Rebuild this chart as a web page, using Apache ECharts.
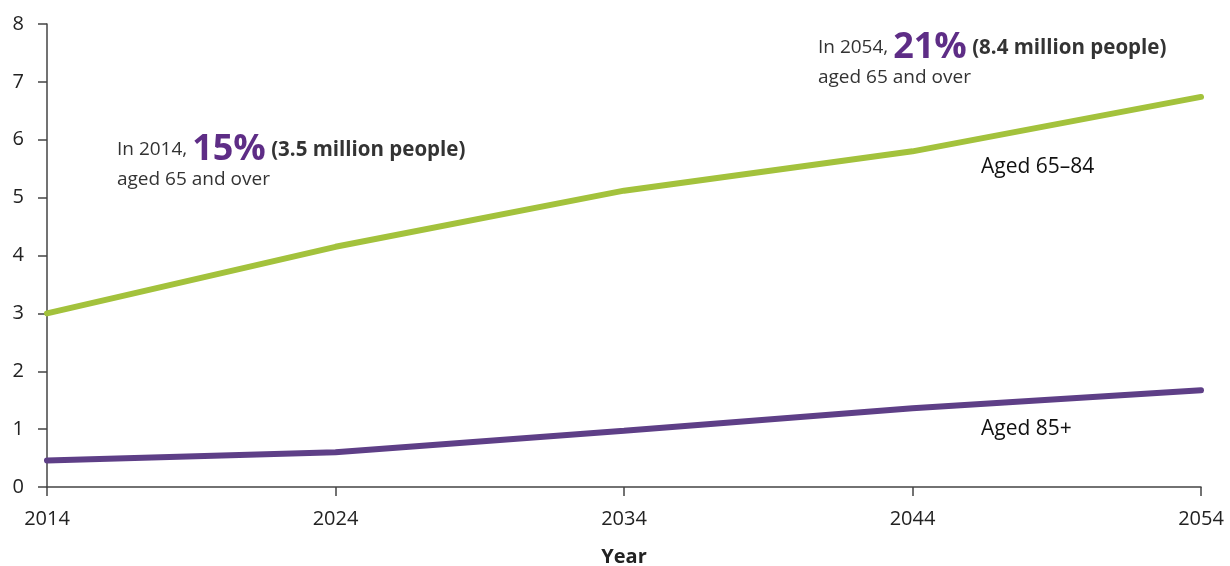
<!DOCTYPE html>
<html><head><meta charset="utf-8">
<script src="https://cdn.jsdelivr.net/npm/echarts@6/dist/echarts.min.js"></script>
<style>html,body{margin:0;padding:0;background:#fff}#c{width:1230px;height:566px}</style>
</head><body><div id="c"></div>
<script>
const years = ['2014','2024','2034','2044','2054'];
const aged65to84 = [3.0, 4.15, 5.12, 5.8, 6.74];
const aged85plus = [0.46, 0.6, 0.97, 1.36, 1.67];
const yTicks = [0,1,2,3,4,5,6,7,8];
const FONT = '"Open Sans", "Noto Sans", sans-serif';
const richStyle = {
  a: {fontFamily: FONT, fontSize: 19, fill: '#333', lineHeight: 30},
  b: {fontFamily: FONT, fontSize: 36, fontWeight: 'bold', fill: '#5e2d86', lineHeight: 30},
  c: {fontFamily: FONT, fontSize: 20.5, fontWeight: 'bold', fill: '#333', lineHeight: 30}
};
const chart = echarts.init(document.getElementById('c'));
chart.setOption({
  animation: false,
  grid: {left: 47, right: 29, top: 24, bottom: 79, outerBoundsMode: 'none', containLabel: false},
  xAxis: {
    type: 'category', data: years, boundaryGap: false,
    name: 'Year', nameLocation: 'middle', nameGap: 60,
    nameTextStyle: {fontFamily: FONT, fontWeight: 'bold', fontSize: 20, color: '#222'},
    axisLine: {lineStyle: {color: '#444', width: 1.5}},
    axisTick: {show: true, length: 9, lineStyle: {color: '#444', width: 1.5}},
    axisLabel: {fontFamily: FONT, fontSize: 20, color: '#222', margin: 22}
  },
  yAxis: {
    type: 'value', min: 0, max: yTicks[yTicks.length-1], interval: 1,
    splitLine: {show: false},
    axisLine: {show: true, lineStyle: {color: '#444', width: 1.5}},
    axisTick: {show: true, length: 9, lineStyle: {color: '#444', width: 1.5}},
    axisLabel: {fontFamily: FONT, fontSize: 20, color: '#222', margin: 23}
  },
  series: [
    {name: 'Aged 65–84', type: 'line', data: aged65to84, symbol: 'none',
     lineStyle: {color: '#a3c23c', width: 6, cap: 'round'}},
    {name: 'Aged 85+', type: 'line', data: aged85plus, symbol: 'none',
     lineStyle: {color: '#5e3f87', width: 6, cap: 'round'}}
  ],
  graphic: [
    {type: 'text', left: 117, top: 132, style: {
      text: '{a|In 2014, }{b|15%}{c| (3.5 million people)}\n{a|aged 65 and over}',
      rich: richStyle}},
    {type: 'text', left: 818, top: 30, style: {
      text: '{a|In 2054, }{b|21%}{c| (8.4 million people)}\n{a|aged 65 and over}',
      rich: richStyle}},
    {type: 'text', left: 981, top: 157, style: {text: 'Aged 65–84', fontFamily: FONT, fontSize: 21, fill: '#111'}},
    {type: 'text', left: 981, top: 419, style: {text: 'Aged 85+', fontFamily: FONT, fontSize: 21, fill: '#111'}}
  ]
});
</script></body></html>
